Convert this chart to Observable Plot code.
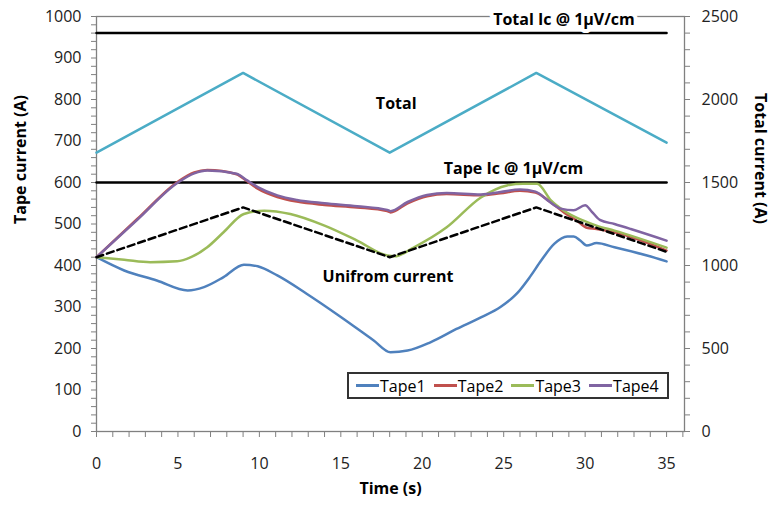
<!DOCTYPE html>
<html>
<head>
<meta charset="utf-8">
<script src="https://cdn.jsdelivr.net/npm/d3@7"></script>
<script src="https://cdn.jsdelivr.net/npm/@observablehq/plot@0.6"></script>
<style>
  body { margin: 0; background: #fff; font-family: "Open Sans", sans-serif; }
  #wrap { position: relative; width: 772px; height: 509px; }
  #legend { position: absolute; left: 347px; top: 372px; width: 311px; height: 23px;
            border: 2px solid #333; background: #fff; display: flex; align-items: center;
            padding-left: 7px; font-size: 16px; color: #000; }
  .item { display: flex; align-items: center; width: 77.7px; }
  .sw { width: 23px; height: 2.5px; margin-right: 1px; }
</style>
</head>
<body>
<div id="wrap"><div id="legend"></div></div>
<script>
// ---- data ----
const seriesNames = ["Tape1", "Tape2", "Tape3", "Tape4"];
const seriesColors = ["#4F81BD", "#C0504D", "#9BBB59", "#8064A2"];

const tape1T = [0, 1.7, 3.7, 5.6, 6.6, 7.8, 9.05, 9.9, 11.1, 12.9, 15, 17, 18.05, 19.1, 20.5, 22.1, 23.6, 24.8, 25.8, 26.6, 27.3, 28.1, 28.9, 29.3, 29.7, 30.1, 30.7, 31.8, 33.8, 35];
const tape1V = [420, 388, 364, 340, 348, 372, 402, 398, 376, 332, 276, 220, 191, 195, 215, 247, 275, 300, 332, 372, 412, 452, 470, 470, 460, 448, 454, 444, 424, 410];

const tape2T = [0, 2.5, 5.0, 6.0, 6.8, 8.6, 9.25, 9.9, 11.1, 12.3, 14, 16, 17.85, 18.05, 19.1, 20.3, 21.5, 23.6, 24.8, 26.0, 26.95, 27.9, 28.7, 29.5, 30.1, 30.7, 31.8, 35];
const tape2V = [420, 512, 602, 624, 630, 620, 603, 585, 565, 554, 546, 540, 531, 528, 550, 567, 572, 569, 574, 580, 576, 552, 528, 508, 491, 488, 480, 436];

const tape3T = [0, 1.7, 3.3, 4.95, 5.8, 6.8, 7.8, 9.05, 10.3, 11.9, 14, 16, 17.85, 18.3, 19.5, 21.5, 23.6, 25.2, 26.2, 27.05, 27.9, 28.7, 29.9, 30.7, 31.8, 35];
const tape3V = [420, 414, 408, 410, 420, 444, 480, 524, 532, 524, 496, 460, 424, 422, 444, 492, 564, 593, 597, 597, 557, 532, 508, 496, 484, 443];

const tape4T = [0, 2.5, 5.0, 6.0, 6.8, 8.6, 9.25, 9.9, 11.1, 12.3, 14, 16, 17.85, 18.05, 19.1, 20.3, 21.5, 23.6, 24.8, 26.0, 26.95, 27.7, 28.5, 29.3, 30.0, 30.4, 30.9, 31.8, 32.8, 35];
const tape4V = [420, 510, 600, 622, 629, 621, 605, 589, 569, 558, 550, 543, 534, 531, 553, 570, 575, 571, 577, 583, 578, 557, 537, 533, 545, 530, 510, 500, 488, 460];

const uniformT = [0, 9, 18, 27, 35];
const uniformV = [420, 540, 420, 540, 433];

const totalT = [0, 9, 18, 27, 35];
const totalV = [1680, 2160, 1680, 2160, 1740];   // right axis (A)

const icT = [0, 35];
const tapeIc = 600;     // left axis (A)
const totalIc = 2400;   // right axis (A)

const leftTicks = [0, 100, 200, 300, 400, 500, 600, 700, 800, 900, 1000];
const rightTicks = [0, 500, 1000, 1500, 2000, 2500];
const xTicks = [0, 5, 10, 15, 20, 25, 30, 35];
const axisRatio = 2.5;  // right / left

// ---- build tables ----
const tapeT = [tape1T, tape2T, tape3T, tape4T];
const tapeV = [tape1V, tape2V, tape3V, tape4V];
const tapes = seriesNames.flatMap((name, i) => tapeT[i].map((t, j) => ({name, t, v: tapeV[i][j]})));
const uniform = uniformT.map((t, j) => ({t, v: uniformV[j]}));
const total = totalT.map((t, j) => ({t, v: totalV[j]}));
const tapeIcLine = icT.map(t => ({t, v: tapeIc}));
const totalIcLine = icT.map(t => ({t, v: totalIc}));

const gray = "#808080";
const bold = {fontWeight: "bold", fontSize: 16, fill: "#000"};

const chart = Plot.plot({
  width: 772, height: 509,
  marginLeft: 96, marginRight: 88, marginTop: 16, marginBottom: 78,
  x: {domain: [0, 36.1]},
  y: {domain: [0, 1000]},
  color: {domain: seriesNames, range: seriesColors},
  style: {fontFamily: "'Open Sans', sans-serif", fontSize: "16px", color: "#000", background: "#fff"},
  marks: [
    Plot.frame({stroke: gray, strokeWidth: 1.3}),
    // left axis
    Plot.axisY({ticks: d3.range(0, 1001, 20), tickSize: 5, text: null, label: null, stroke: gray}),
    Plot.axisY({ticks: leftTicks, tickFormat: d3.format("d"), tickSize: 0, tickPadding: 15, label: null, fill: "#222"}),
    // right axis
    Plot.axisY({anchor: "right", ticks: d3.range(0, 2501, 100).map(v => v / axisRatio), tickSize: 5, text: null, label: null, stroke: gray}),
    Plot.axisY({anchor: "right", ticks: rightTicks.map(v => v / axisRatio), tickFormat: d => String(Math.round(d * axisRatio)), tickSize: 0, tickPadding: 17, label: null, fill: "#222"}),
    // x axis
    Plot.axisX({ticks: d3.range(0, 37, 1), tickSize: 6, text: null, label: null, stroke: gray}),
    Plot.axisX({ticks: xTicks, tickFormat: d3.format("d"), tickSize: 0, tickPadding: 26, label: null, fill: "#222"}),
    // reference lines
    Plot.line(totalIcLine, {x: "t", y: d => d.v / axisRatio, stroke: "#000", strokeWidth: 2.5}),
    Plot.line(tapeIcLine, {x: "t", y: "v", stroke: "#000", strokeWidth: 2.5}),
    // total current (right axis)
    Plot.line(total, {x: "t", y: d => d.v / axisRatio, stroke: "#4BACC6", strokeWidth: 2.5}),
    // tapes
    Plot.line(tapes, {x: "t", y: "v", z: "name", stroke: "name", strokeWidth: 2.5, curve: "monotone-x"}),
    // uniform
    Plot.line(uniform, {x: "t", y: "v", stroke: "#000", strokeWidth: 2.5, strokeDasharray: "7,4"}),
    // annotations
    Plot.text(["Total Ic @ 1µV/cm"], {x: 28.7, y: 1000, dy: 3, ...bold, stroke: "#fff", strokeWidth: 8}),
    Plot.text(["Tape Ic @ 1µV/cm"], {x: 25.6, y: 634, ...bold}),
    Plot.text(["Total"], {x: 18.4, y: 790, ...bold}),
    Plot.text(["Unifrom current"], {x: 17.9, y: 373, ...bold}),
    // axis titles
    Plot.text(["Tape current (A)"], {frameAnchor: "left", dx: -76, rotate: -90, ...bold}),
    Plot.text(["Total current (A)"], {frameAnchor: "right", dx: 76, rotate: 90, ...bold}),
    Plot.text(["Time (s)"], {frameAnchor: "bottom", dy: 62, ...bold})
  ]
});
const wrap = document.getElementById("wrap");
wrap.insertBefore(chart, wrap.firstChild);

const legend = document.getElementById("legend");
seriesNames.forEach((name, i) => {
  const item = document.createElement("div");
  item.className = "item";
  const sw = document.createElement("span");
  sw.className = "sw";
  sw.style.background = seriesColors[i];
  const lab = document.createElement("span");
  lab.textContent = name;
  item.appendChild(sw);
  item.appendChild(lab);
  legend.appendChild(item);
});
</script>
</body>
</html>
